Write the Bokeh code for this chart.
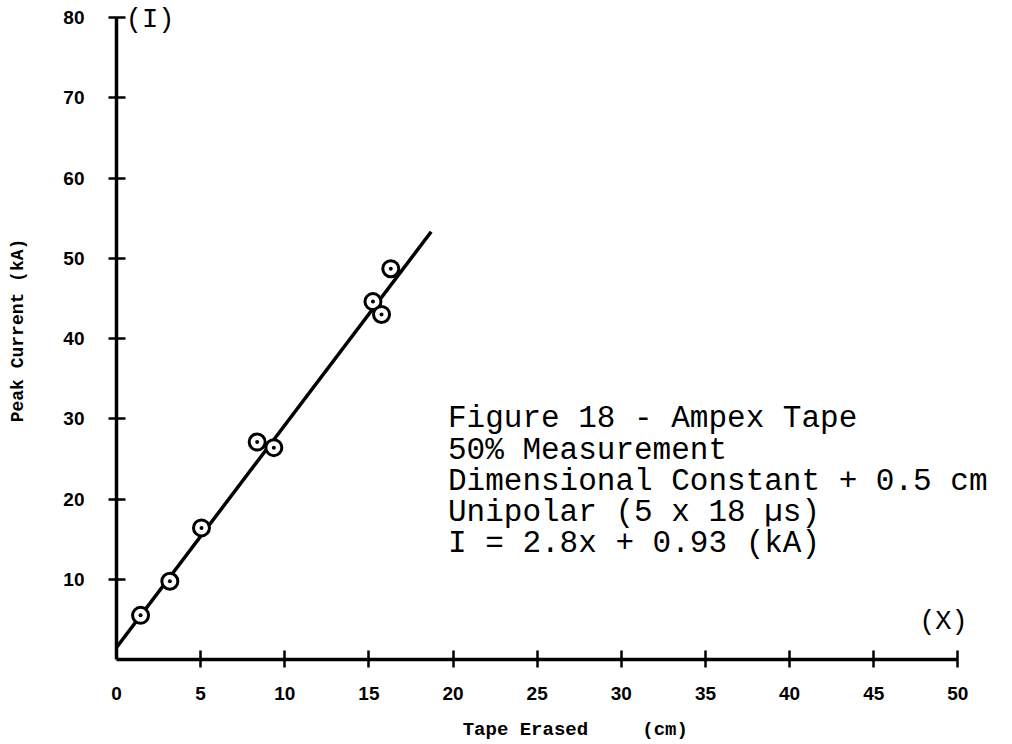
from bokeh.plotting import figure
from bokeh.models import Range1d, FixedTicker, Label, LinearAxis
from bokeh.embed import file_html
from bokeh.resources import INLINE

# Data
tape_erased = [1.43, 3.17, 5.05, 8.36, 9.35, 15.24, 15.75, 16.3]
peak_current = [5.5, 9.75, 16.4, 27.1, 26.4, 44.6, 43.0, 48.7]
fit_x = [0.0, 18.7]
fit_y = [1.5, 53.3]
x_ticks = [5, 10, 15, 20, 25, 30, 35, 40, 45, 50]
x_tick_labels = [0, 5, 10, 15, 20, 25, 30, 35, 40, 45, 50]
y_ticks = [10, 20, 30, 40, 50, 60, 70, 80]
x_title_parts = {24.3: "Tape Erased", 32.6: "(cm)"}
notes = [
    "Figure 18 - Ampex Tape",
    "50% Measurement",
    "Dimensional Constant + 0.5 cm",
    "Unipolar (5 x 18 \u00b5s)",
    "I = 2.8x + 0.93 (kA)",
]
notes_x = 19.7
notes_y = [30.0, 26.1, 22.2, 18.3, 14.4]

p = figure(width=1012, height=744, x_range=Range1d(0, 52), y_range=Range1d(0, 82),
           output_backend="svg", toolbar_location=None,
           min_border_left=116, min_border_right=21, min_border_top=1, min_border_bottom=85)
p.outline_line_color = None
p.xgrid.visible = False
p.ygrid.visible = False
p.background_fill_color = "white"
p.border_fill_color = "white"

tick_font = "Liberation Sans"
mono = "Liberation Mono"

def style_line_axis(ax, ticks, bnd):
    ax.ticker = FixedTicker(ticks=ticks)
    ax.bounds = bnd
    ax.axis_line_width = 3.5
    ax.axis_line_color = "black"
    ax.major_tick_line_width = 2.5
    ax.major_tick_line_color = "black"
    ax.major_tick_in = 9
    ax.major_tick_out = 8
    ax.minor_tick_line_color = None

def style_label_only(ax, ticks, font, size):
    ax.ticker = FixedTicker(ticks=ticks)
    ax.axis_line_color = None
    ax.major_tick_line_color = None
    ax.minor_tick_line_color = None
    ax.major_tick_in = 0
    ax.major_tick_out = 0
    ax.minor_tick_in = 0
    ax.minor_tick_out = 0
    ax.major_label_text_font = font
    ax.major_label_text_font_style = "bold"
    ax.major_label_text_font_size = size
    ax.major_label_text_color = "black"

# main x axis: line + ticks only
xax = p.xaxis[0]
style_line_axis(xax, x_ticks, (0, 50))
xax.major_label_text_font_size = "0px"
xax.major_label_text_color = None
xax.major_label_standoff = 0

# x tick labels (including 0)
xlab = LinearAxis()
style_label_only(xlab, x_tick_labels, tick_font, "19px")
xlab.major_label_standoff = 19
p.add_layout(xlab, "below")

# x title
xtitle = LinearAxis()
style_label_only(xtitle, list(x_title_parts.keys()), mono, "19px")
xtitle.major_label_overrides = x_title_parts
xtitle.major_label_standoff = 16
p.add_layout(xtitle, "below")

# y axis
yax = p.yaxis[0]
style_line_axis(yax, y_ticks, (0, 80))
yax.major_label_text_font = tick_font
yax.major_label_text_font_style = "bold"
yax.major_label_text_font_size = "19px"
yax.major_label_text_color = "black"
yax.major_label_standoff = 24
yax.axis_label = "Peak Current (kA)"
yax.axis_label_text_font = mono
yax.axis_label_text_font_style = "bold"
yax.axis_label_text_font_size = "18px"
yax.axis_label_text_color = "black"
yax.axis_label_standoff = 32

p.line(fit_x, fit_y, line_width=3.5, line_color="black")
p.scatter(tape_erased, peak_current, marker="circle_dot", size=16, line_width=3,
          line_color="black", fill_color="white")

# axis markers
p.add_layout(Label(x=0.55, y=79.7, text="(I)", text_font=mono, text_color="black",
                   text_font_size="27px", text_align="left", text_baseline="middle"))
p.add_layout(Label(x=47.7, y=4.7, text="(X)", text_font=mono, text_color="black",
                   text_font_size="27px", text_align="left", text_baseline="middle"))

for t, yy in zip(notes, notes_y):
    p.add_layout(Label(x=notes_x, y=yy, text=t, text_font=mono, text_color="black",
                       text_font_size="31px", text_align="left", text_baseline="alphabetic"))

open("out.html", "w").write(file_html(p, INLINE))
